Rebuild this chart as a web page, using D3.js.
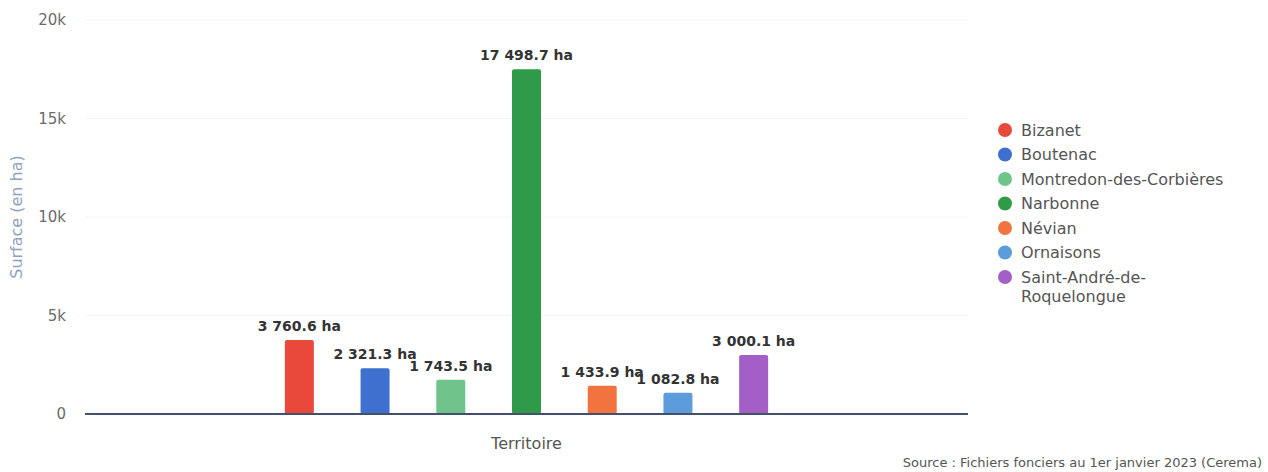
<!DOCTYPE html>
<html>
<head>
<meta charset="utf-8">
<script src="https://cdn.jsdelivr.net/npm/d3@7"></script>
<style>
	body { margin: 0; background: #fff; }
	text { font-family: "DejaVu Sans", Verdana, sans-serif; }
</style>
</head>
<body>
<script>
// surfaces par commune
var communes = ["Bizanet", "Boutenac", "Montredon-des-Corbières", "Narbonne", "Névian", "Ornaisons", "Saint-André-de-Roquelongue"];
var surfaces = [3760.6, 2321.3, 1743.5, 17498.7, 1433.9, 1082.8, 3000.1];
var couleurs = ["#e9493b", "#3e70cf", "#6fc48c", "#2f9b49", "#f1733f", "#5d9cdb", "#a35ec8"];
var yTicks = [0, 5000, 10000, 15000, 20000];
var yTickLabels = ["0", "5k", "10k", "15k", "20k"];

var w = 1268, h = 472;
var m = {left: 85, right: 300, top: 20, bottom: 58};

var svg = d3.select("body")
		.append("svg")
		.attr("width", w)
		.attr("height", h);

var x0 = d3.scaleBand()
		.domain(["Territoire"])
		.range([m.left, w - m.right])
		.paddingOuter(0.333);
var x1 = d3.scaleBand()
		.domain(communes)
		.range([0, x0.bandwidth()])
		.paddingInner(0.617)
		.paddingOuter(0.3085);
var y = d3.scaleLinear()
		.domain([0, 20000])
		.range([h - m.bottom, m.top]);

// grille
svg.append("g")
	.selectAll("line")
	.data(yTicks.slice(1))
	.enter().append("line")
	.attr("x1", m.left)
	.attr("x2", w - m.right)
	.attr("y1", function(d) { return y(d); })
	.attr("y2", function(d) { return y(d); })
	.attr("stroke", "#f5f5f5")
	.attr("stroke-width", 1);

// axe y
var yAxis = svg.append("g")
		.attr("transform", "translate(" + m.left + ",0)")
		.call(d3.axisLeft(y).tickValues(yTicks).tickSize(0).tickPadding(19)
			.tickFormat(function(d, i) { return yTickLabels[i]; }));
yAxis.select(".domain").remove();
yAxis.selectAll("text")
	.attr("fill", "#6b6b6b")
	.style("font-size", "15px");

svg.append("text")
	.attr("transform", "translate(22," + ((m.top + h - m.bottom) / 2) + ") rotate(-90)")
	.attr("text-anchor", "middle")
	.attr("fill", "#8fa3bb")
	.style("font-size", "16px")
	.text("Surface (en ha)");

// barres
var g = svg.append("g")
		.attr("transform", "translate(" + x0("Territoire") + ",0)");
g.selectAll("rect")
	.data(communes)
	.enter().append("rect")
	.attr("x", function(d) { return x1(d); })
	.attr("y", function(d, i) { return y(surfaces[i]); })
	.attr("width", x1.bandwidth())
	.attr("height", function(d, i) { return y(0) - y(surfaces[i]); })
	.attr("rx", 2)
	.attr("fill", function(d, i) { return couleurs[i]; });

var fmt = function(v) {
	var s = v.toFixed(1).split(".");
	return s[0].replace(/\B(?=(\d{3})+(?!\d))/g, " ") + "." + s[1] + " ha";
};
g.selectAll("text.val")
	.data(communes)
	.enter().append("text")
	.attr("class", "val")
	.attr("x", function(d) { return x1(d) + x1.bandwidth() / 2; })
	.attr("y", function(d, i) { return y(surfaces[i]) - 9; })
	.attr("text-anchor", "middle")
	.attr("fill", "#333")
	.style("font-size", "14px")
	.style("font-weight", "bold")
	.text(function(d, i) { return fmt(surfaces[i]); });

// ligne zéro
svg.append("line")
	.attr("x1", m.left)
	.attr("x2", w - m.right)
	.attr("y1", y(0))
	.attr("y2", y(0))
	.attr("stroke", "#44506a")
	.attr("stroke-width", 2);

svg.append("text")
	.attr("x", x0("Territoire") + x0.bandwidth() / 2)
	.attr("y", 449)
	.attr("text-anchor", "middle")
	.attr("fill", "#555")
	.style("font-size", "16px")
	.text("Territoire");

// légende
var leg = svg.append("g").attr("transform", "translate(1005,130)");
var items = leg.selectAll("g")
		.data(communes)
		.enter().append("g")
		.attr("transform", function(d, i) { return "translate(0," + (i * 24.5) + ")"; });
items.append("circle")
	.attr("r", 7)
	.attr("fill", function(d, i) { return couleurs[i]; });
items.append("text")
	.attr("x", 16)
	.attr("y", 5.5)
	.attr("fill", "#555")
	.style("font-size", "16px")
	.each(function(d) {
		var t = d3.select(this);
		if (d == "Saint-André-de-Roquelongue") {
			t.append("tspan").attr("x", 16).text("Saint-André-de-");
			t.append("tspan").attr("x", 16).attr("dy", 19).text("Roquelongue");
		} else {
			t.text(d);
		}
	});

svg.append("text")
	.attr("x", 1262)
	.attr("y", 467)
	.attr("text-anchor", "end")
	.attr("fill", "#555")
	.style("font-size", "13px")
	.text("Source : Fichiers fonciers au 1er janvier 2023 (Cerema)");
</script>
</body>
</html>
